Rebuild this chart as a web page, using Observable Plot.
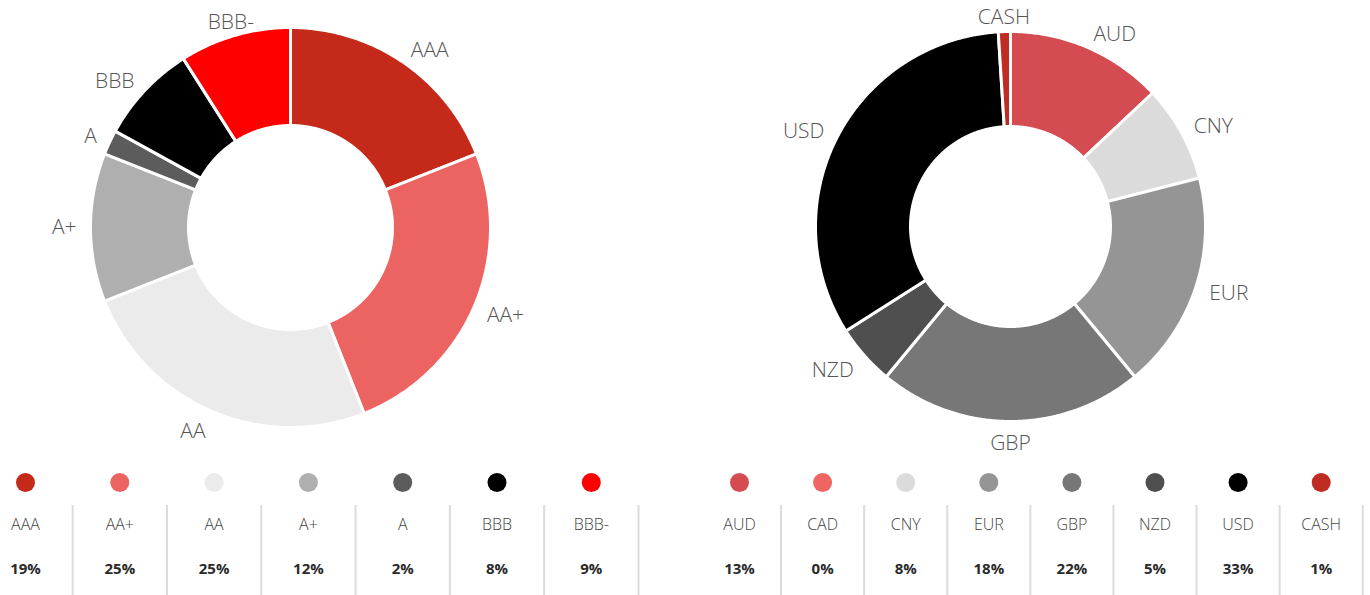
<!DOCTYPE html>
<html>
<head>
<meta charset="utf-8">
<script src="https://cdn.jsdelivr.net/npm/d3@7"></script>
<script src="https://cdn.jsdelivr.net/npm/@observablehq/plot@0.6"></script>
<style>
  html, body { margin: 0; padding: 0; background: #fff; }
  g[aria-label="donut-label"] text { letter-spacing: 2.2px; }
  g[aria-label="legend-label"] text { letter-spacing: 1px; }
</style>
</head>
<body>
<div id="chart"></div>
<script>
// ---- data ----
const ratingLabels = ["AAA", "AA+", "AA", "A+", "A", "BBB", "BBB-"];
const ratingValues = [19, 25, 25, 12, 2, 8, 9];
const ratingColors = ["#c4291a", "#ec6461", "#ebebeb", "#afafaf", "#5c5c5c", "#000000", "#fe0000"];

const currencyLabels = ["AUD", "CAD", "CNY", "EUR", "GBP", "NZD", "USD", "CASH"];
const currencyValues = [13, 0, 8, 18, 22, 5, 33, 1];
const currencyColors = ["#d44c52", "#ef6562", "#dbdbdb", "#959595", "#777777", "#4f4f4f", "#000000", "#bf2c22"];

// ---- layout ----
const W = 1370, H = 595;

function donut(labels, values, colors, cx, cy, R, r0) {
  const total = d3.sum(values);
  const polys = [], texts = [];
  let acc = 0;
  labels.forEach((lab, i) => {
    const v = values[i];
    const a0 = acc / total * 2 * Math.PI;
    acc += v;
    const a1 = acc / total * 2 * Math.PI;
    if (v <= 0) return;
    const n = Math.max(2, Math.ceil((a1 - a0) / (Math.PI / 360)));
    for (let k = 0; k <= n; k++) {
      const a = a0 + (a1 - a0) * k / n;
      polys.push({key: lab, color: colors[i], x: cx + R * Math.sin(a), y: cy - R * Math.cos(a)});
    }
    for (let k = n; k >= 0; k--) {
      const a = a0 + (a1 - a0) * k / n;
      polys.push({key: lab, color: colors[i], x: cx + r0 * Math.sin(a), y: cy - r0 * Math.cos(a)});
    }
    const am = (a0 + a1) / 2, s = Math.sin(am), c = Math.cos(am);
    const L = R + 14;
    texts.push({
      label: lab,
      x: cx + L * s,
      y: cy - L * c - (c < 0 ? 8 : 0) * c,
      side: s > 0.35 ? "start" : s < -0.35 ? "end" : "middle"
    });
  });
  return {polys, texts};
}

function legend(labels, values, colors, x0, step) {
  return labels.map((lab, i) => ({
    label: lab, value: values[i], color: colors[i],
    x: x0 + i * step, sep: x0 + i * step + step / 2
  }));
}

const left = donut(ratingLabels, ratingValues, ratingColors, 290, 227, 200, 102);
const right = donut(currencyLabels, currencyValues, currencyColors, 1010, 226, 195, 100);
const polys = left.polys.concat(right.polys);
const texts = left.texts.concat(right.texts);
const leg = legend(ratingLabels, ratingValues, ratingColors, 25, 94.3)
  .concat(legend(currencyLabels, currencyValues, currencyColors, 739, 83.1));

const labelFont = {fontSize: 21, fill: "#555", fontWeight: 300, lineAnchor: "middle"};

const chart = Plot.plot({
  width: W,
  height: H,
  margin: 0,
  x: {domain: [0, W], axis: null},
  y: {domain: [0, H], reverse: true, axis: null},
  color: {type: "identity"},
  style: {fontFamily: "'Open Sans', Lato, sans-serif", background: "#fff"},
  marks: [
    Plot.line(polys, {x: "x", y: "y", z: "key", fill: "color", stroke: "white", strokeWidth: 3, curve: "linear-closed"}),
    Plot.text(texts.filter(d => d.side === "start"), {x: "x", y: "y", text: "label", textAnchor: "start", ariaLabel: "donut-label", ...labelFont}),
    Plot.text(texts.filter(d => d.side === "end"), {x: "x", y: "y", text: "label", textAnchor: "end", ariaLabel: "donut-label", ...labelFont}),
    Plot.text(texts.filter(d => d.side === "middle"), {x: "x", y: "y", text: "label", textAnchor: "middle", ariaLabel: "donut-label", ...labelFont}),
    Plot.ruleX(leg, {x: "sep", y1: 505, y2: 595, stroke: "#dcdcdc", strokeWidth: 2}),
    Plot.dot(leg, {x: "x", y: 482, r: 9.5, fill: "color", stroke: null}),
    Plot.text(leg, {x: "x", y: 524, text: "label", fontSize: 16, fill: "#444", fontWeight: 300, lineAnchor: "middle", ariaLabel: "legend-label"}),
    Plot.text(leg, {x: "x", y: 569, text: d => d.value + "%", fontSize: 15, fill: "#2a2a2a", fontWeight: "bold", lineAnchor: "middle"})
  ]
});
document.getElementById("chart").appendChild(chart);
</script>
</body>
</html>
